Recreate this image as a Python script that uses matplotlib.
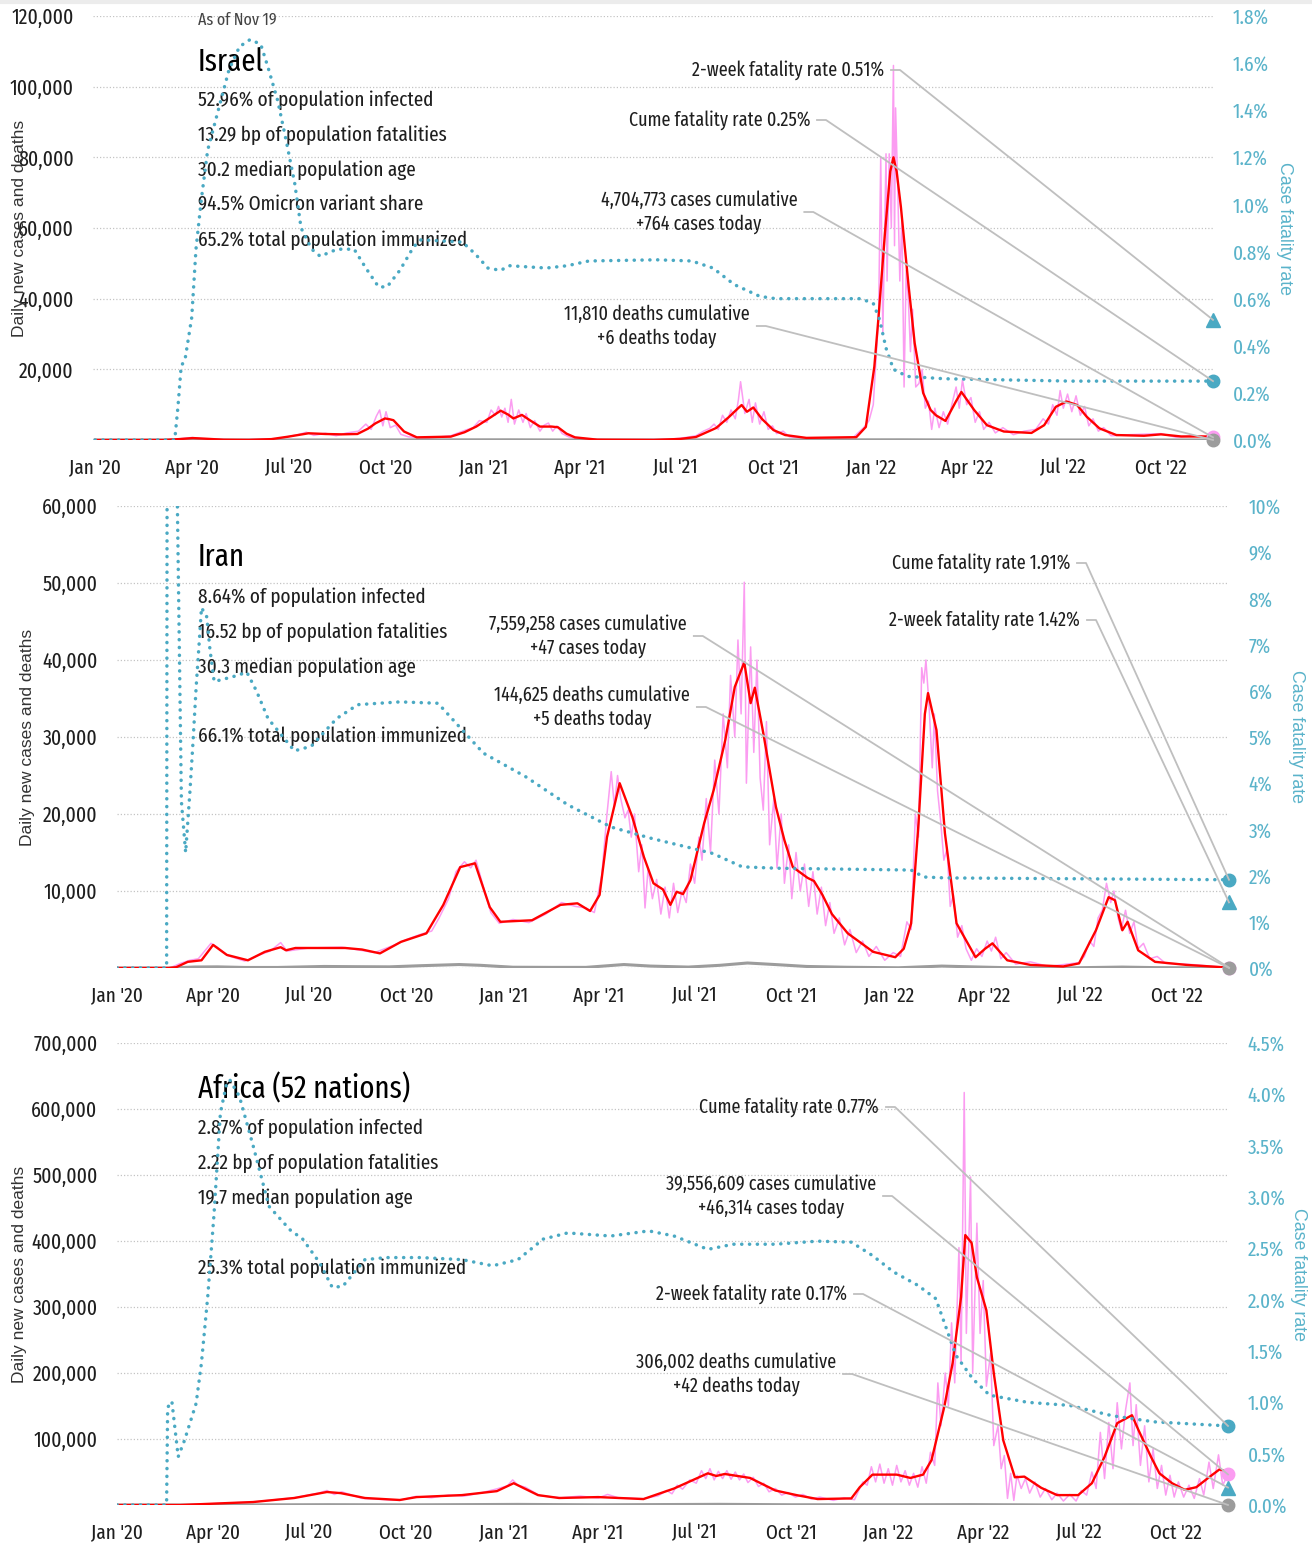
import matplotlib
matplotlib.use("Agg")
import matplotlib.pyplot as plt
import matplotlib.dates as mdates
import numpy as np
import pandas as pd
from matplotlib.lines import Line2D
from matplotlib.transforms import IdentityTransform
from matplotlib.ticker import FuncFormatter


NARROW = ["Fira Sans Extra Condensed", "DejaVu Sans"]
RED = "#ff0000"
PINK = "#fb9cf1"
TEAL = "#4aa9c3"
TEAL_TEXT = "#5ab3ca"
GREY = "#9c9c9c"
LEADER = "#bfbfbf"
TEXT = "#1e1e1e"
GRID = "#c4c4c4"
FIG_W, FIG_H = 1312, 1544

END = "2022-11-19"

# ---------------- Israel ----------------
isr_avg_dates = ["2020-01-01", "2020-03-05", "2020-03-20", "2020-04-02", "2020-04-15", "2020-05-01",
                 "2020-05-25", "2020-06-15", "2020-07-01", "2020-07-20", "2020-08-05", "2020-08-20",
                 "2020-09-04", "2020-09-14", "2020-09-21", "2020-09-30", "2020-10-04", "2020-10-08",
                 "2020-10-18", "2020-10-30", "2020-12-01", "2020-12-14", "2020-12-25", "2021-01-08",
                 "2021-01-17", "2021-01-24", "2021-01-29", "2021-02-06", "2021-02-14", "2021-02-23",
                 "2021-03-06", "2021-03-12", "2021-03-20", "2021-03-28", "2021-04-18", "2021-06-10",
                 "2021-07-05", "2021-07-20", "2021-08-08", "2021-08-20", "2021-08-28", "2021-09-01",
                 "2021-09-06", "2021-09-12", "2021-09-20", "2021-10-01", "2021-10-12", "2021-11-01",
                 "2021-12-18", "2021-12-27", "2022-01-04", "2022-01-08", "2022-01-14", "2022-01-19",
                 "2022-01-22", "2022-01-25", "2022-01-29", "2022-02-05", "2022-02-11", "2022-02-19",
                 "2022-02-26", "2022-03-03", "2022-03-12", "2022-03-22", "2022-03-27", "2022-04-08",
                 "2022-04-20", "2022-05-06", "2022-06-01", "2022-06-13", "2022-06-24", "2022-07-04",
                 "2022-07-14", "2022-07-23", "2022-08-04", "2022-08-20", "2022-09-15", "2022-10-01",
                 "2022-10-20", "2022-11-19"]
isr_avg = [0, 0, 250, 550, 350, 80, 30, 250, 950, 1900, 1700, 1600, 1700, 3200, 4700, 6100, 5900, 5600,
           2400, 750, 950, 2200, 3800, 6500, 8300, 7200, 6100, 7100, 5500, 3800, 3800, 3600, 1800, 750,
           100, 20, 300, 850, 3400, 6500, 8800, 9900, 8000, 9200, 6000, 2800, 1400, 600, 800, 3700,
           20800, 35000, 58600, 76000, 80000, 76000, 66000, 44400, 27400, 13300, 8500, 7000, 5400,
           11000, 13600, 8500, 4200, 2400, 2000, 4200, 9400, 10900, 9900, 6600, 3300, 1400, 1200, 1600,
           1000, 1000]

isr_daily_dates = ["2020-01-01", "2020-03-10", "2020-04-01", "2020-04-10", "2020-05-10", "2020-06-20",
                   "2020-07-10", "2020-07-18", "2020-07-25", "2020-08-05", "2020-08-15", "2020-08-25",
                   "2020-09-05", "2020-09-12", "2020-09-17", "2020-09-22", "2020-09-25", "2020-09-28",
                   "2020-10-01", "2020-10-05", "2020-10-10", "2020-10-15", "2020-10-22", "2020-11-10",
                   "2020-12-01", "2020-12-15", "2020-12-22", "2020-12-28", "2021-01-04", "2021-01-08",
                   "2021-01-12", "2021-01-15", "2021-01-18", "2021-01-21", "2021-01-24", "2021-01-27",
                   "2021-01-30", "2021-02-03", "2021-02-07", "2021-02-10", "2021-02-14", "2021-02-18",
                   "2021-02-23", "2021-02-27", "2021-03-03", "2021-03-07", "2021-03-11", "2021-03-16",
                   "2021-03-22", "2021-04-01", "2021-05-01", "2021-06-25", "2021-07-10", "2021-07-20",
                   "2021-07-27", "2021-08-02", "2021-08-06", "2021-08-10", "2021-08-14", "2021-08-18",
                   "2021-08-22", "2021-08-26", "2021-08-29", "2021-08-31", "2021-09-04", "2021-09-08",
                   "2021-09-11", "2021-09-14", "2021-09-18", "2021-09-22", "2021-09-26", "2021-09-30",
                   "2021-10-04", "2021-10-10", "2021-10-16", "2021-11-01", "2021-12-15", "2021-12-25",
                   "2021-12-30", "2022-01-03", "2022-01-06", "2022-01-08", "2022-01-10", "2022-01-12",
                   "2022-01-15", "2022-01-16", "2022-01-18", "2022-01-20", "2022-01-22", "2022-01-23",
                   "2022-01-24", "2022-01-26", "2022-01-28", "2022-01-30", "2022-02-01", "2022-02-03",
                   "2022-02-05", "2022-02-07", "2022-02-09", "2022-02-12", "2022-02-15", "2022-02-18",
                   "2022-02-21", "2022-02-24", "2022-02-27", "2022-03-02", "2022-03-06", "2022-03-10",
                   "2022-03-14", "2022-03-18", "2022-03-22", "2022-03-25", "2022-03-28", "2022-04-01",
                   "2022-04-05", "2022-04-09", "2022-04-13", "2022-04-17", "2022-04-22", "2022-04-28",
                   "2022-05-05", "2022-05-15", "2022-05-25", "2022-06-05", "2022-06-12", "2022-06-17",
                   "2022-06-21", "2022-06-25", "2022-06-28", "2022-07-01", "2022-07-05", "2022-07-09",
                   "2022-07-13", "2022-07-17", "2022-07-21", "2022-07-25", "2022-07-29", "2022-08-03",
                   "2022-08-08", "2022-08-15", "2022-09-01", "2022-10-01", "2022-10-15", "2022-11-01",
                   "2022-11-19"]
isr_daily = [0, 0, 700, 400, 20, 300, 1500, 2200, 1300, 1900, 1200, 2000, 2500, 4500, 3000, 6800, 8500,
             4000, 8000, 3500, 4200, 1600, 900, 500, 1200, 2800, 3500, 5500, 5000, 8500, 7000, 9500,
             6500, 9000, 5000, 11500, 4500, 8500, 5000, 7500, 3500, 5500, 2500, 4200, 4800, 2500, 4000,
             1800, 900, 200, 50, 200, 700, 1200, 2500, 3300, 4500, 3000, 7000, 5000, 8500, 6000, 11500,
             16500, 7500, 11500, 5000, 10500, 4500, 8000, 3000, 4000, 1800, 2500, 900, 500, 700, 3500,
             5500, 10000, 25000, 35000, 80000, 30000, 81000, 45000, 81000, 60000, 106000, 55000, 94000,
             72000, 45000, 63000, 15000, 48000, 40000, 25000, 37000, 15000, 16000, 20000, 9000, 11000,
             3000, 9000, 3500, 8000, 4500, 10000, 15000, 9000, 17000, 10000, 12000, 5000, 8000, 3000,
             5000, 2000, 3500, 1500, 2500, 3000, 6000, 4500, 10000, 7000, 14000, 9000, 13000, 8000,
             12500, 7000, 9500, 4000, 6000, 2500, 3500, 1200, 1500, 1800, 800, 1200, 764]

isr_death_dates = ["2020-01-01", "2020-04-10", "2020-08-20", "2020-10-05", "2021-01-25", "2021-04-01",
                   "2021-09-01", "2022-01-30", "2022-04-01", "2022-11-19"]
isr_deaths = [0, 10, 20, 40, 60, 5, 25, 60, 10, 6]

isr_cfr_dates = ["2020-01-01", "2020-03-16", "2020-03-19", "2020-03-22", "2020-03-26", "2020-04-01",
                 "2020-04-05", "2020-04-10", "2020-04-16", "2020-04-26", "2020-05-06", "2020-05-16",
                 "2020-05-26", "2020-06-05", "2020-06-12", "2020-06-21", "2020-06-29", "2020-07-07",
                 "2020-07-13", "2020-07-23", "2020-07-31", "2020-08-16", "2020-09-01", "2020-09-12",
                 "2020-09-24", "2020-10-02", "2020-10-14", "2020-10-27", "2020-11-03", "2020-12-12",
                 "2020-12-24", "2021-01-05", "2021-01-17", "2021-01-25", "2021-03-01", "2021-03-21",
                 "2021-04-10", "2021-06-13", "2021-07-16", "2021-08-05", "2021-08-25", "2021-09-18",
                 "2021-10-03", "2021-12-22", "2022-01-03", "2022-01-09", "2022-01-15", "2022-01-22",
                 "2022-02-04", "2022-03-11", "2022-07-08", "2022-11-19"]
isr_cfr = [0, 0, 0.14, 0.31, 0.35, 0.52, 0.81, 1.02, 1.23, 1.40, 1.57, 1.67, 1.70, 1.68, 1.58, 1.44,
           1.27, 1.09, 0.90, 0.81, 0.78, 0.81, 0.81, 0.73, 0.65, 0.65, 0.72, 0.82, 0.85, 0.84, 0.79,
           0.73, 0.72, 0.74, 0.73, 0.74, 0.76, 0.765, 0.76, 0.73, 0.66, 0.61, 0.60, 0.60, 0.58, 0.51,
           0.39, 0.30, 0.27, 0.26, 0.25, 0.25]

# ---------------- Iran ----------------
irn_avg_dates = ["2020-01-01", "2020-02-19", "2020-02-26", "2020-03-08", "2020-03-21", "2020-04-01",
                 "2020-04-14", "2020-05-04", "2020-05-20", "2020-06-04", "2020-06-09", "2020-06-18",
                 "2020-08-04", "2020-08-20", "2020-09-06", "2020-09-26", "2020-10-20", "2020-11-05",
                 "2020-11-21", "2020-12-05", "2020-12-19", "2020-12-29", "2021-01-28", "2021-02-24",
                 "2021-03-12", "2021-03-24", "2021-04-02", "2021-04-09", "2021-04-21", "2021-05-03",
                 "2021-05-14", "2021-05-23", "2021-06-01", "2021-06-08", "2021-06-14", "2021-06-20",
                 "2021-06-27", "2021-07-10", "2021-07-19", "2021-07-30", "2021-08-08", "2021-08-17",
                 "2021-08-23", "2021-08-27", "2021-09-04", "2021-09-16", "2021-09-24", "2021-10-02",
                 "2021-10-16", "2021-10-22", "2021-10-30", "2021-11-08", "2021-11-23", "2021-12-17",
                 "2022-01-07", "2022-01-15", "2022-01-22", "2022-01-29", "2022-02-04", "2022-02-07",
                 "2022-02-15", "2022-02-23", "2022-03-06", "2022-03-24", "2022-04-02", "2022-04-09",
                 "2022-04-23", "2022-05-15", "2022-06-15", "2022-06-30", "2022-07-16", "2022-07-28",
                 "2022-08-03", "2022-08-10", "2022-08-15", "2022-08-25", "2022-09-10", "2022-10-10",
                 "2022-11-19"]
irn_avg = [0, 0, 100, 800, 1000, 3000, 1700, 1000, 2100, 2700, 2300, 2600, 2600, 2400, 1900, 3400, 4500,
           8200, 13100, 13600, 7900, 6000, 6200, 8200, 8400, 7400, 9500, 17000, 24000, 19600, 14400,
           11000, 10200, 8200, 9900, 9600, 11400, 18800, 23100, 29600, 36500, 39700, 34400, 36400,
           30500, 20900, 16600, 13100, 11700, 11300, 9500, 7000, 4500, 2100, 1400, 2500, 5800, 18800,
           33000, 35700, 30900, 17500, 5800, 1400, 2500, 3200, 1000, 400, 200, 600, 4900, 9200, 8800,
           4900, 6000, 2300, 800, 400, 50]

irn_daily_dates = ["2020-01-01", "2020-02-20", "2020-03-01", "2020-03-10", "2020-03-18", "2020-03-30",
                   "2020-04-05", "2020-04-15", "2020-05-01", "2020-05-15", "2020-05-25", "2020-06-04",
                   "2020-06-10", "2020-07-01", "2020-08-01", "2020-09-01", "2020-09-20", "2020-10-01",
                   "2020-10-15", "2020-10-25", "2020-11-01", "2020-11-10", "2020-11-17", "2020-11-25",
                   "2020-12-01", "2020-12-06", "2020-12-12", "2020-12-20", "2020-12-28", "2021-01-10",
                   "2021-01-25", "2021-02-10", "2021-02-25", "2021-03-10", "2021-03-20", "2021-03-28",
                   "2021-04-04", "2021-04-09", "2021-04-13", "2021-04-16", "2021-04-19", "2021-04-22",
                   "2021-04-26", "2021-04-29", "2021-05-02", "2021-05-05", "2021-05-09", "2021-05-12",
                   "2021-05-15", "2021-05-18", "2021-05-22", "2021-05-26", "2021-05-30", "2021-06-03",
                   "2021-06-07", "2021-06-11", "2021-06-15", "2021-06-19", "2021-06-23", "2021-06-27",
                   "2021-07-01", "2021-07-05", "2021-07-08", "2021-07-12", "2021-07-16", "2021-07-20",
                   "2021-07-24", "2021-07-28", "2021-08-01", "2021-08-04", "2021-08-08", "2021-08-11",
                   "2021-08-14", "2021-08-17", "2021-08-19", "2021-08-23", "2021-08-26", "2021-08-29",
                   "2021-09-01", "2021-09-04", "2021-09-07", "2021-09-10", "2021-09-14", "2021-09-17",
                   "2021-09-21", "2021-09-24", "2021-09-28", "2021-10-01", "2021-10-05", "2021-10-09",
                   "2021-10-13", "2021-10-17", "2021-10-21", "2021-10-25", "2021-10-29", "2021-11-02",
                   "2021-11-06", "2021-11-10", "2021-11-15", "2021-11-20", "2021-11-25", "2021-12-01",
                   "2021-12-07", "2021-12-13", "2021-12-20", "2021-12-28", "2022-01-05", "2022-01-12",
                   "2022-01-18", "2022-01-22", "2022-01-26", "2022-01-29", "2022-02-01", "2022-02-03",
                   "2022-02-05", "2022-02-08", "2022-02-11", "2022-02-13", "2022-02-16", "2022-02-19",
                   "2022-02-22", "2022-02-25", "2022-02-28", "2022-03-03", "2022-03-07", "2022-03-11",
                   "2022-03-15", "2022-03-20", "2022-03-25", "2022-03-30", "2022-04-04", "2022-04-08",
                   "2022-04-12", "2022-04-17", "2022-04-22", "2022-05-01", "2022-05-15", "2022-06-01",
                   "2022-06-30", "2022-07-05", "2022-07-10", "2022-07-14", "2022-07-18", "2022-07-22",
                   "2022-07-26", "2022-07-30", "2022-08-02", "2022-08-06", "2022-08-09", "2022-08-13",
                   "2022-08-17", "2022-08-21", "2022-08-25", "2022-08-30", "2022-09-05", "2022-09-12",
                   "2022-09-20", "2022-10-10", "2022-11-19"]
irn_daily = [0, 0, 600, 1000, 1200, 3200, 2700, 1600, 900, 1700, 2200, 3300, 2200, 2600, 2700, 2000,
             3000, 3700, 4400, 4800, 6500, 9000, 12500, 13800, 13000, 14000, 11000, 7200, 5800, 6300,
             5900, 7000, 8500, 8000, 7800, 7200, 12000, 20000, 25500, 21000, 25000, 22000, 19500, 20500,
             17000, 20000, 12500, 16000, 7800, 13000, 9000, 11500, 7000, 10500, 6500, 11000, 7200,
             10000, 8500, 13500, 11000, 17000, 14000, 22000, 15000, 27000, 20000, 33000, 26000, 38000,
             30000, 42600, 33000, 50100, 24000, 41700, 28000, 40000, 24700, 20500, 32000, 16000, 22000,
             13000, 20000, 11000, 16000, 9000, 15000, 10000, 13500, 8000, 12500, 7000, 10500, 5500, 8500,
             4500, 6500, 3000, 5000, 2000, 3500, 1500, 2800, 1000, 2000, 1500, 6000, 5000, 20000, 17000,
             39000, 37000, 40000, 34000, 26000, 33000, 23000, 19000, 14000, 15500, 8000, 9500, 4000,
             5500, 2500, 1000, 2500, 1500, 3500, 2200, 4000, 1200, 2000, 500, 800, 200, 700, 1500, 3500,
             2800, 6500, 7500, 11000, 8500, 10000, 6500, 5000, 7500, 4500, 6000, 2500, 3200, 1200, 1500,
             600, 500, 47]

irn_death_dates = ["2020-01-01", "2020-02-20", "2020-03-15", "2020-04-05", "2020-05-01", "2020-06-01",
                   "2020-07-15", "2020-08-15", "2020-09-15", "2020-10-15", "2020-11-20", "2020-12-10",
                   "2021-01-10", "2021-02-15", "2021-03-20", "2021-04-25", "2021-05-20", "2021-06-25",
                   "2021-07-25", "2021-08-20", "2021-09-15", "2021-10-15", "2021-11-20", "2022-01-10",
                   "2022-02-20", "2022-03-20", "2022-04-20", "2022-06-20", "2022-08-10", "2022-09-10",
                   "2022-11-19"]
irn_deaths = [0, 0, 130, 150, 70, 70, 200, 170, 150, 300, 450, 350, 100, 80, 80, 450, 250, 120, 350,
              650, 450, 200, 100, 30, 250, 150, 50, 20, 120, 50, 5]

irn_cfr_dates = ["2020-01-01", "2020-02-17", "2020-02-18", "2020-02-25", "2020-02-26", "2020-03-02",
                 "2020-03-06", "2020-03-10", "2020-03-13", "2020-03-16", "2020-03-19", "2020-03-21",
                 "2020-03-26", "2020-03-29", "2020-04-02", "2020-04-19", "2020-05-03", "2020-05-12",
                 "2020-05-23", "2020-06-17", "2020-07-03", "2020-07-27", "2020-08-16", "2020-09-25",
                 "2020-10-31", "2020-11-23", "2020-12-13", "2021-01-22", "2021-03-03", "2021-04-13",
                 "2021-05-22", "2021-06-27", "2021-07-18", "2021-08-15", "2021-09-16", "2022-01-22",
                 "2022-02-03", "2022-02-23", "2022-11-19"]
irn_cfr = [0, 0, 25, 25, 12, 3.6, 2.5, 3.8, 4.9, 6.1, 7.1, 7.8, 7.6, 6.9, 6.2, 6.3, 6.4, 6.0, 5.4, 4.7,
           4.8, 5.4, 5.7, 5.76, 5.73, 5.15, 4.65, 4.14, 3.53, 3.05, 2.8, 2.6, 2.48, 2.19, 2.16, 2.12,
           1.97, 1.95, 1.91]

# ---------------- Africa ----------------
afr_avg_dates = ["2020-01-01", "2020-03-01", "2020-05-09", "2020-06-17", "2020-07-18", "2020-07-31",
                 "2020-08-23", "2020-09-25", "2020-10-11", "2020-11-23", "2020-12-26", "2021-01-11",
                 "2021-02-03", "2021-02-23", "2021-04-01", "2021-05-14", "2021-06-12", "2021-07-14",
                 "2021-07-22", "2021-07-30", "2021-08-23", "2021-09-16", "2021-10-06", "2021-10-26",
                 "2021-11-27", "2021-12-05", "2021-12-17", "2022-01-09", "2022-01-22", "2022-02-03",
                 "2022-02-11", "2022-02-23", "2022-03-03", "2022-03-11", "2022-03-15", "2022-03-21",
                 "2022-03-26", "2022-04-04", "2022-04-11", "2022-04-20", "2022-05-01", "2022-05-10",
                 "2022-05-26", "2022-06-10", "2022-06-30", "2022-07-13", "2022-07-25", "2022-08-06",
                 "2022-08-20", "2022-08-26", "2022-09-07", "2022-09-15", "2022-09-27", "2022-10-09",
                 "2022-10-20", "2022-11-01", "2022-11-11", "2022-11-19"]
afr_avg = [0, 0, 4500, 10600, 19700, 18000, 10600, 7600, 12000, 15000, 21000, 33000, 15000, 10600,
           12000, 9000, 25000, 48000, 44000, 47000, 41000, 22000, 15000, 9000, 10000, 27000, 46000,
           46000, 41000, 46000, 68000, 148000, 215000, 315000, 409000, 397000, 345000, 295000, 200000,
           98000, 42000, 43000, 26000, 15000, 15000, 33000, 73000, 124000, 136000, 114000, 73000, 48000,
           33000, 23000, 27000, 42000, 54000, 50000]

afr_daily_dates = ["2020-01-01", "2020-03-01", "2020-05-09", "2020-06-17", "2020-07-10", "2020-07-18",
                   "2020-07-25", "2020-08-01", "2020-08-20", "2020-09-25", "2020-10-10", "2020-10-25",
                   "2020-11-10", "2020-11-25", "2020-12-10", "2020-12-25", "2021-01-05", "2021-01-10",
                   "2021-01-15", "2021-01-22", "2021-02-05", "2021-02-25", "2021-03-15", "2021-04-01",
                   "2021-04-10", "2021-04-20", "2021-05-14", "2021-05-28", "2021-06-05", "2021-06-10",
                   "2021-06-15", "2021-06-20", "2021-06-27", "2021-07-03", "2021-07-08", "2021-07-12",
                   "2021-07-16", "2021-07-20", "2021-07-24", "2021-07-28", "2021-08-01", "2021-08-05",
                   "2021-08-09", "2021-08-13", "2021-08-17", "2021-08-21", "2021-08-26", "2021-08-31",
                   "2021-09-05", "2021-09-10", "2021-09-16", "2021-09-22", "2021-09-28", "2021-10-05",
                   "2021-10-12", "2021-10-20", "2021-10-28", "2021-11-10", "2021-11-20", "2021-11-30",
                   "2021-12-04", "2021-12-08", "2021-12-12", "2021-12-16", "2021-12-20", "2021-12-24",
                   "2021-12-28", "2022-01-01", "2022-01-05", "2022-01-09", "2022-01-13", "2022-01-17",
                   "2022-01-21", "2022-01-25", "2022-01-29", "2022-02-02", "2022-02-06", "2022-02-10",
                   "2022-02-14", "2022-02-17", "2022-02-20", "2022-02-24", "2022-02-27", "2022-03-02",
                   "2022-03-05", "2022-03-09", "2022-03-11", "2022-03-14", "2022-03-16", "2022-03-20",
                   "2022-03-22", "2022-03-26", "2022-03-29", "2022-04-01", "2022-04-04", "2022-04-08",
                   "2022-04-11", "2022-04-15", "2022-04-18", "2022-04-21", "2022-04-24", "2022-04-27",
                   "2022-04-30", "2022-05-03", "2022-05-07", "2022-05-11", "2022-05-15", "2022-05-20",
                   "2022-05-25", "2022-05-30", "2022-06-05", "2022-06-10", "2022-06-16", "2022-06-22",
                   "2022-06-28", "2022-07-03", "2022-07-08", "2022-07-13", "2022-07-17", "2022-07-21",
                   "2022-07-25", "2022-07-29", "2022-08-02", "2022-08-06", "2022-08-10", "2022-08-14",
                   "2022-08-18", "2022-08-21", "2022-08-24", "2022-08-28", "2022-09-01", "2022-09-05",
                   "2022-09-09", "2022-09-13", "2022-09-17", "2022-09-21", "2022-09-25", "2022-09-29",
                   "2022-10-03", "2022-10-08", "2022-10-13", "2022-10-18", "2022-10-23", "2022-10-27",
                   "2022-11-01", "2022-11-05", "2022-11-10", "2022-11-14", "2022-11-19"]
afr_daily = [0, 0, 4500, 11000, 18000, 22000, 16000, 20000, 10000, 7000, 13000, 11000, 15000, 13500,
             18000, 24000, 29000, 38000, 30000, 27000, 14000, 11000, 13500, 10500, 16000, 11000, 9500,
             14000, 22000, 17000, 30000, 24000, 38000, 33000, 52000, 40000, 55000, 38000, 51000, 40000,
             52000, 39000, 50000, 38000, 47000, 34000, 42000, 28000, 33000, 20000, 25000, 15000, 19000,
             12000, 16000, 9000, 12000, 7000, 11000, 8000, 22000, 35000, 30000, 58000, 35000, 62000,
             33000, 55000, 30000, 60000, 35000, 52000, 30000, 48000, 27000, 58000, 33000, 80000, 60000,
             185000, 120000, 200000, 150000, 276000, 185000, 390000, 215000, 625000, 260000, 497000,
             200000, 427000, 260000, 340000, 180000, 230000, 90000, 120000, 55000, 75000, 10000, 48000,
             7000, 45000, 25000, 40000, 18000, 35000, 12000, 25000, 8000, 18000, 6000, 16000, 6000,
             22000, 15000, 50000, 25000, 110000, 40000, 125000, 55000, 155000, 85000, 145000, 185000,
             90000, 152000, 60000, 120000, 35000, 85000, 25000, 60000, 15000, 45000, 12000, 35000, 12000,
             30000, 10000, 40000, 15000, 65000, 25000, 76000, 30000, 46314]

afr_death_dates = ["2020-01-01", "2020-04-01", "2020-07-20", "2020-10-01", "2021-01-15", "2021-04-01",
                   "2021-07-25", "2021-10-01", "2022-01-15", "2022-03-20", "2022-06-01", "2022-08-20",
                   "2022-11-19"]
afr_deaths = [0, 50, 500, 250, 900, 300, 1000, 400, 400, 600, 150, 300, 42]

afr_cfr_dates = ["2020-01-01", "2020-02-17", "2020-02-18", "2020-02-22", "2020-02-28", "2020-03-05",
                 "2020-03-16", "2020-03-21", "2020-03-27", "2020-04-02", "2020-04-08", "2020-04-14",
                 "2020-04-17", "2020-04-26", "2020-05-09", "2020-05-24", "2020-06-13", "2020-06-25",
                 "2020-07-11", "2020-07-23", "2020-08-02", "2020-08-23", "2020-09-12", "2020-10-15",
                 "2020-11-23", "2020-12-22", "2021-01-15", "2021-02-08", "2021-03-03", "2021-04-13",
                 "2021-05-19", "2021-06-12", "2021-07-14", "2021-08-07", "2021-09-16", "2021-10-26",
                 "2021-11-27", "2021-12-17", "2022-01-06", "2022-01-29", "2022-02-15", "2022-02-23",
                 "2022-03-06", "2022-03-22", "2022-04-07", "2022-05-13", "2022-06-22", "2022-08-01",
                 "2022-09-10", "2022-11-19"]
afr_cfr = [0, 0, 0.95, 1.01, 0.47, 0.63, 0.99, 1.38, 2.03, 2.84, 3.82, 4.11, 4.14, 3.98, 3.5, 2.91,
           2.68, 2.59, 2.36, 2.12, 2.13, 2.39, 2.41, 2.41, 2.39, 2.33, 2.39, 2.59, 2.65, 2.62, 2.67,
           2.62, 2.49, 2.54, 2.54, 2.57, 2.56, 2.43, 2.27, 2.14, 2.01, 1.78, 1.46, 1.23, 1.07, 1.0,
           0.97, 0.87, 0.81, 0.77]

# end-of-series values (markers)
isr_today = dict(cases=764, deaths=6, cume=0.25, two_week=0.51)
irn_today = dict(cases=47, deaths=5, cume=1.91, two_week=1.42)
afr_today = dict(cases=46314, deaths=42, cume=0.77, two_week=0.17)

isr_stats = ["52.96% of population infected", "13.29 bp of population fatalities",
             "30.2 median population age", "94.5% Omicron variant share",
             "65.2% total population immunized"]
irn_stats = ["8.64% of population infected", "16.52 bp of population fatalities",
             "30.3 median population age", "66.1% total population immunized"]
afr_stats = ["2.87% of population infected", "2.22 bp of population fatalities",
             "19.7 median population age", "25.3% total population immunized"]

isr_notes = {
    "two_week": "2-week fatality rate 0.51%",
    "cume": "Cume fatality rate 0.25%",
    "cases": "4,704,773 cases cumulative\n+764 cases today",
    "deaths": "11,810 deaths cumulative\n+6 deaths today",
}
irn_notes = {
    "cume": "Cume fatality rate 1.91%",
    "two_week": "2-week fatality rate 1.42%",
    "cases": "7,559,258 cases cumulative\n+47 cases today",
    "deaths": "144,625 deaths cumulative\n+5 deaths today",
}
afr_notes = {
    "cume": "Cume fatality rate 0.77%",
    "cases": "39,556,609 cases cumulative\n+46,314 cases today",
    "two_week": "2-week fatality rate 0.17%",
    "deaths": "306,002 deaths cumulative\n+42 deaths today",
}


def d(lst):
    return pd.to_datetime(lst)


def px(x, y):
    # reference pixel (top-left origin) -> display coords
    return x, FIG_H - y


def draw_panel(fig, box, xstart, series, today, ylim, ystep, cfr_lim, cfr_step, cfr_fmt,
               title, stats, stat_y, notes, note_pos, ylabel_x, cfr_label_x, asof=False):
    left, top, right, bottom = box
    rect = [left / FIG_W, 1 - bottom / FIG_H, (right - left) / FIG_W, (bottom - top) / FIG_H]
    ax = fig.add_axes(rect)
    ax2 = ax.twinx()

    avg_d, avg_v, day_d, day_v, dth_d, dth_v, cfr_d, cfr_v = series
    ax.plot(d(day_d), day_v, color=PINK, lw=1.1, zorder=2)
    ax.plot(d(dth_d), dth_v, color=GREY, lw=2.2, zorder=2)
    ax.plot(d(avg_d), avg_v, color=RED, lw=1.7, zorder=3)
    ax2.plot(d(cfr_d), cfr_v, color=TEAL, lw=2.5, linestyle=(0, (0.05, 2.2)),
             dash_capstyle="round", zorder=3)

    end = pd.Timestamp(END)
    ax.set_xlim(pd.Timestamp(xstart), end)
    ax.set_ylim(0, ylim)
    ax2.set_ylim(0, cfr_lim)

    ax.set_yticks(np.arange(0, ylim + 1, ystep))
    ax.yaxis.set_major_formatter(FuncFormatter(lambda v, _: "" if v == 0 else f"{v:,.0f}"))
    ax2.set_yticks(np.arange(0, cfr_lim + 1e-9, cfr_step))
    ax2.yaxis.set_major_formatter(FuncFormatter(lambda v, _: cfr_fmt.format(v)))

    ticks = pd.date_range("2020-01-01", "2022-10-01", freq="QS")
    ax.set_xticks(ticks)
    ax.xaxis.set_major_formatter(mdates.DateFormatter("%b '%y"))

    ax.grid(axis="y", color=GRID, linestyle=(0, (1, 1.6)), linewidth=0.9)
    ax.set_axisbelow(True)
    for a in (ax, ax2):
        for s in a.spines.values():
            s.set_visible(False)
    ax.tick_params(axis="y", length=0, pad=14, labelsize=15.5, labelcolor=TEXT)
    ax.tick_params(axis="x", length=0, pad=13, labelsize=15, labelcolor=TEXT)
    ax2.tick_params(axis="y", length=0, pad=14, labelsize=15, labelcolor=TEAL_TEXT)

    ax.set_ylabel("Daily new cases and deaths", family="Liberation Sans", fontsize=12.5,
                  color="#333333", va="center")
    ax.yaxis.set_label_coords(*ax.transAxes.inverted().transform(px(ylabel_x, (top + bottom) / 2)))
    ax2.set_ylabel("Case fatality rate", family="Liberation Sans", fontsize=12.8, color=TEAL_TEXT,
                   rotation=270, va="center")
    ax2.yaxis.set_label_coords(*ax2.transAxes.inverted().transform(px(cfr_label_x, (top + bottom) / 2)))

    # end markers
    ax.plot([end], [today["cases"]], "o", ms=9, color=PINK, clip_on=False, zorder=6)
    ax.plot([end], [today["deaths"]], "o", ms=9, color=GREY, clip_on=False, zorder=6)
    ax2.plot([end], [today["cume"]], "o", ms=9, color=TEAL, clip_on=False, zorder=6)
    ax2.plot([end], [today["two_week"]], "^", ms=10, color=TEAL, clip_on=False, zorder=6)

    # title block
    inv = ax.transAxes.inverted()
    tx = 198
    if asof:
        ax.text(*inv.transform(px(tx, 20)), "As of Nov 19", transform=ax.transAxes, fontsize=12.5,
                color="#444444", va="center", ha="left")
    ax.text(*inv.transform(px(tx, stat_y[0])), title, transform=ax.transAxes, fontsize=22.5,
            color="#000000", va="center", ha="left")
    for s, y in zip(stats, stat_y[1:]):
        ax.text(*inv.transform(px(tx, y)), s, transform=ax.transAxes, fontsize=15,
                color=TEXT, va="center", ha="left")

    # annotations with leader lines
    renderer = fig.canvas.get_renderer()
    targets = {
        "cases": ax.transData.transform((mdates.date2num(end), today["cases"])),
        "deaths": ax.transData.transform((mdates.date2num(end), today["deaths"])),
        "cume": ax2.transData.transform((mdates.date2num(end), today["cume"])),
        "two_week": ax2.transData.transform((mdates.date2num(end), today["two_week"])),
    }
    for key, label in notes.items():
        x, y, ha = note_pos[key]
        t = ax.text(*inv.transform(px(x, y)), label, transform=ax.transAxes, fontsize=14.2,
                    color=TEXT, va="center", ha=ha, multialignment="center", linespacing=1.25,
                    zorder=5)
        bb = t.get_window_extent(renderer)
        yc = (bb.y0 + bb.y1) / 2
        x0 = bb.x1 + 7
        tx_, ty_ = targets[key]
        fig.add_artist(Line2D([x0, x0 + 9, tx_], [yc, yc, ty_], transform=IdentityTransform(),
                              color=LEADER, lw=1.3, zorder=4))
    return ax


def plot():
    plt.rcParams["font.family"] = NARROW
    fig = plt.figure(figsize=(FIG_W / 100, FIG_H / 100), dpi=100, facecolor="white")
    fig.add_artist(Line2D([0, 1], [0.9985, 0.9985], transform=fig.transFigure, color="#ececec", lw=3))

    draw_panel(fig, (93, 16, 1213, 440), "2019-12-30",
               (isr_avg_dates, isr_avg, isr_daily_dates, isr_daily, isr_death_dates, isr_deaths,
                isr_cfr_dates, isr_cfr),
               isr_today, 120000, 20000, 1.8, 0.2, "{:.1f}%",
               "Israel", isr_stats, [62, 100, 135, 170, 205, 240], isr_notes,
               {"two_week": (884, 70, "right"), "cume": (810, 120, "right"),
                "cases": (699, 212, "center"), "deaths": (657, 326, "center")},
               20, 1285, asof=True)

    draw_panel(fig, (117, 506, 1229, 968), "2020-01-01",
               (irn_avg_dates, irn_avg, irn_daily_dates, irn_daily, irn_death_dates, irn_deaths,
                irn_cfr_dates, irn_cfr),
               irn_today, 60000, 10000, 10, 1, "{:.0f}%",
               "Iran", irn_stats, [557, 597, 632, 667, 736], irn_notes,
               {"cume": (1070, 563, "right"), "two_week": (1080, 620, "right"),
                "cases": (588, 636, "center"), "deaths": (592, 707, "center")},
               28, 1296)

    draw_panel(fig, (117, 1043, 1228, 1505), "2020-01-01",
               (afr_avg_dates, afr_avg, afr_daily_dates, afr_daily, afr_death_dates, afr_deaths,
                afr_cfr_dates, afr_cfr),
               afr_today, 700000, 100000, 4.5, 0.5, "{:.1f}%",
               "Africa (52 nations)", afr_stats, [1089, 1128, 1163, 1198, 1268], afr_notes,
               {"cume": (879, 1107, "right"), "cases": (771, 1196, "center"),
                "two_week": (847, 1294, "right"), "deaths": (736, 1374, "center")},
               20, 1298)

    fig.savefig("out.png", dpi=100, facecolor="white")


if __name__ == "__main__":
    plot()
